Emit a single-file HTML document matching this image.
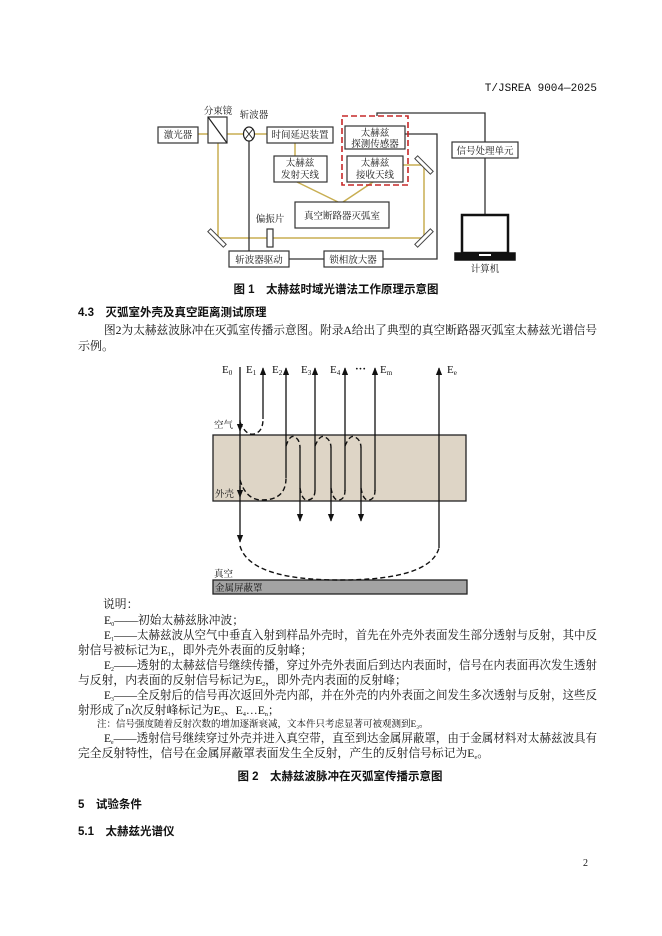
<!DOCTYPE html>
<html><head><meta charset="utf-8"><style>
html,body{margin:0;padding:0;background:#fff}
svg{display:block}
text{font-family:"Liberation Serif","Noto Serif CJK SC","Noto Sans CJK SC",serif;fill:#111}
.s{font-family:"Liberation Sans","Noto Sans CJK SC",sans-serif}
</style></head><body>
<svg width="662" height="936" viewBox="0 0 662 936" xmlns="http://www.w3.org/2000/svg">
<defs>
<marker id="ah" viewBox="0 0 10 10" refX="9" refY="5" markerWidth="6" markerHeight="6" orient="auto-start-reverse"><path d="M0,1 L10,5 L0,9 z" fill="#111"/></marker>
</defs>
<text x="597" y="91" font-size="11" text-anchor="end" class="s" style="font-family:'Liberation Mono','Noto Sans CJK SC',monospace">T/JSREA 9004—2025</text>

<!-- Figure 1 -->
<g fill="none" stroke-width="1.5">
<g stroke="#c8ae52">
<path d="M198,134 H267"/>
<path d="M218,134 V238 H424 V165 H403"/>
<path d="M295,143 V156"/>
<path d="M297,182 L338,202 M373,182 L343,202"/>
</g>
<g stroke="#333" stroke-width="1.3">
<path d="M249,140 V251"/>
<path d="M289,259 H324"/>
<path d="M383,259 H437 V134 H405"/>
<path d="M377,116 V113 H485 V142"/>
<path d="M485,158 V215"/>
</g>
<g stroke="#333" stroke-width="1.2" fill="#fff">
<rect x="158" y="127" width="40" height="16"/>
<rect x="267" y="127" width="66" height="16"/>
<rect x="345" y="126" width="60" height="23"/>
<rect x="347" y="156" width="56" height="26"/>
<rect x="274" y="156" width="53" height="26"/>
<rect x="295" y="202" width="94" height="26"/>
<rect x="452" y="142" width="66" height="16"/>
<rect x="229" y="251" width="60" height="16"/>
<rect x="324" y="251" width="59" height="16"/>
<rect x="208" y="117" width="19" height="26"/>
<rect x="267" y="229" width="6" height="18"/>
</g>
<path d="M208,117 L227,143" stroke="#222" stroke-width="1.2"/>
<ellipse cx="249" cy="134" rx="5.5" ry="7" stroke="#222" stroke-width="1.2" fill="#fff"/>
<path d="M245,129 L253,139 M253,129 L245,139" stroke="#222" stroke-width="1"/>
<rect x="342" y="116" width="66" height="69" stroke="#c62828" stroke-width="1.6" stroke-dasharray="6,3"/>
<g stroke="#444" stroke-width="1" fill="#fff">
<rect x="206" y="236" width="22" height="4" transform="rotate(45 217 238)"/>
<rect x="413" y="236" width="22" height="4" transform="rotate(-45 424 238)"/>
<rect x="413" y="163" width="22" height="4" transform="rotate(45 424 165)"/>
</g>
<rect x="462" y="215" width="46" height="38" stroke="#111" stroke-width="2.5" fill="#fff"/>
<path d="M455,253 H515 L515,260 H455 Z" fill="#111" stroke="#111"/>
<rect x="479" y="254" width="12" height="2" fill="#fff" stroke="none"/>
</g>
<g font-size="9.5" text-anchor="middle">
<text x="178" y="138">激光器</text>
<text x="218" y="114">分束镜</text>
<text x="254" y="118">斩波器</text>
<text x="300" y="138">时间延迟装置</text>
<text x="375" y="136">太赫兹</text>
<text x="375" y="147">探测传感器</text>
<text x="375" y="166">太赫兹</text>
<text x="375" y="178">接收天线</text>
<text x="300" y="166">太赫兹</text>
<text x="300" y="178">发射天线</text>
<text x="342" y="219">真空断路器灭弧室</text>
<text x="485" y="154">信号处理单元</text>
<text x="270" y="222">偏振片</text>
<text x="259" y="263">斩波器驱动</text>
<text x="353" y="263">锁相放大器</text>
<text x="485" y="272">计算机</text>
</g>
<text x="336" y="293" font-size="11.5" text-anchor="middle" class="s" font-weight="bold">图 1　太赫兹时域光谱法工作原理示意图</text>

<text x="78" y="316" font-size="11.5" class="s" font-weight="bold">4.3　灭弧室外壳及真空距离测试原理</text>
<text x="104" y="334" font-size="12" textLength="493" lengthAdjust="spacingAndGlyphs">图2为太赫兹波脉冲在灭弧室传播示意图。附录A给出了典型的真空断路器灭弧室太赫兹光谱信号</text>
<text x="78" y="350" font-size="12">示例。</text>

<!-- Figure 2 -->
<rect x="213" y="435" width="253" height="66" fill="#ded5c6" stroke="#222" stroke-width="1.3"/>
<rect x="213" y="580" width="254" height="14" fill="#a3a3a3" stroke="#222" stroke-width="1.3"/>
<g stroke="#111" stroke-width="1.3" fill="none">
<path d="M240,367 V542" marker-end="url(#ah)"/>
<path d="M240,420 V431" marker-end="url(#ah)"/>
<path d="M240,486 V497" marker-end="url(#ah)"/>
<path d="M263,419 V368" marker-end="url(#ah)"/>
<path d="M286,478 V368" marker-end="url(#ah)"/>
<path d="M315,491 V368" marker-end="url(#ah)"/>
<path d="M345,491 V368" marker-end="url(#ah)"/>
<path d="M375,491 V368" marker-end="url(#ah)"/>
<path d="M439,548 V368" marker-end="url(#ah)"/>
<path d="M300,448 V521" marker-end="url(#ah)"/>
<path d="M331,448 V521" marker-end="url(#ah)"/>
<path d="M361,448 V521" marker-end="url(#ah)"/>
</g>
<g stroke="#111" stroke-width="1.4" fill="none" stroke-dasharray="5,3">
<path d="M240,422 Q246,436 254,434 Q263,432 263,419"/>
<path d="M240,480 Q246,500 262,500 Q286,500 286,478"/>
<path d="M286,446 Q290,434 295,437 Q300,440 300,448"/>
<path d="M315,446 Q320,434 325,437 Q331,440 331,448"/>
<path d="M345,446 Q350,434 355,437 Q361,440 361,448"/>
<path d="M300,488 Q302,500 307,500 Q315,500 315,490"/>
<path d="M331,488 Q333,500 338,500 Q345,500 345,490"/>
<path d="M361,488 Q363,500 368,500 Q375,500 375,490"/>
<path d="M240,546 Q250,580 340,580 Q430,580 439,548"/>
</g>
<g font-size="11">
<text x="222" y="373">E<tspan font-size="7" dy="2">0</tspan></text>
<text x="246" y="373">E<tspan font-size="7" dy="2">1</tspan></text>
<text x="272" y="373">E<tspan font-size="7" dy="2">2</tspan></text>
<text x="301" y="373">E<tspan font-size="7" dy="2">3</tspan></text>
<text x="330" y="373">E<tspan font-size="7" dy="2">4</tspan></text>
<text x="355" y="372" font-weight="bold">···</text>
<text x="380" y="373">E<tspan font-size="7" dy="2">m</tspan></text>
<text x="447" y="373">E<tspan font-size="7" dy="2">e</tspan></text>
</g>
<g font-size="9.5">
<text x="214" y="428">空气</text>
<text x="215" y="497">外壳</text>
<text x="214" y="577">真空</text>
<text x="215" y="591">金属屏蔽罩</text>
</g>

<g font-size="11.8">
<text x="103" y="608">说明：</text>
<text x="104" y="624">E<tspan font-size="6" dy="2">0</tspan><tspan dy="-2">——初始太赫兹脉冲波；</tspan></text>
<text x="104" y="639" textLength="493" lengthAdjust="spacingAndGlyphs">E<tspan font-size="6" dy="2">1</tspan><tspan dy="-2">——太赫兹波从空气中垂直入射到样品外壳时，首先在外壳外表面发生部分透射与反射，其中反</tspan></text>
<text x="78" y="654">射信号被标记为E<tspan font-size="6" dy="2">1</tspan><tspan dy="-2">，即外壳外表面的反射峰；</tspan></text>
<text x="104" y="669" textLength="493" lengthAdjust="spacingAndGlyphs">E<tspan font-size="6" dy="2">2</tspan><tspan dy="-2">——透射的太赫兹信号继续传播，穿过外壳外表面后到达内表面时，信号在内表面再次发生透射</tspan></text>
<text x="78" y="684">与反射，内表面的反射信号标记为E<tspan font-size="6" dy="2">2</tspan><tspan dy="-2">，即外壳内表面的反射峰；</tspan></text>
<text x="104" y="699" textLength="493" lengthAdjust="spacingAndGlyphs">E<tspan font-size="6" dy="2">3</tspan><tspan dy="-2">——全反射后的信号再次返回外壳内部，并在外壳的内外表面之间发生多次透射与反射，这些反</tspan></text>
<text x="78" y="714">射形成了n次反射峰标记为E<tspan font-size="6" dy="2">3</tspan><tspan dy="-2">、E</tspan><tspan font-size="6" dy="2">4</tspan><tspan dy="-2">…E</tspan><tspan font-size="6" dy="2">n</tspan><tspan dy="-2">；</tspan></text>
<text x="97" y="727" font-size="9.5">注：信号强度随着反射次数的增加逐渐衰减，文本件只考虑显著可被观测到E<tspan font-size="5" dy="2">3</tspan><tspan dy="-2">。</tspan></text>
<text x="104" y="742" textLength="493" lengthAdjust="spacingAndGlyphs">E<tspan font-size="6" dy="2">e</tspan><tspan dy="-2">——透射信号继续穿过外壳并进入真空带，直至到达金属屏蔽罩，由于金属材料对太赫兹波具有</tspan></text>
<text x="78" y="757">完全反射特性，信号在金属屏蔽罩表面发生全反射，产生的反射信号标记为E<tspan font-size="6" dy="2">e</tspan><tspan dy="-2">。</tspan></text>
</g>
<text x="340" y="780" font-size="11.5" text-anchor="middle" class="s" font-weight="bold">图 2　太赫兹波脉冲在灭弧室传播示意图</text>
<text x="78" y="808" font-size="11.5" class="s" font-weight="bold">5　试验条件</text>
<text x="78" y="835" font-size="11.5" class="s" font-weight="bold">5.1　太赫兹光谱仪</text>
<text x="583" y="866" font-size="10">2</text>
</svg>
</body></html>
